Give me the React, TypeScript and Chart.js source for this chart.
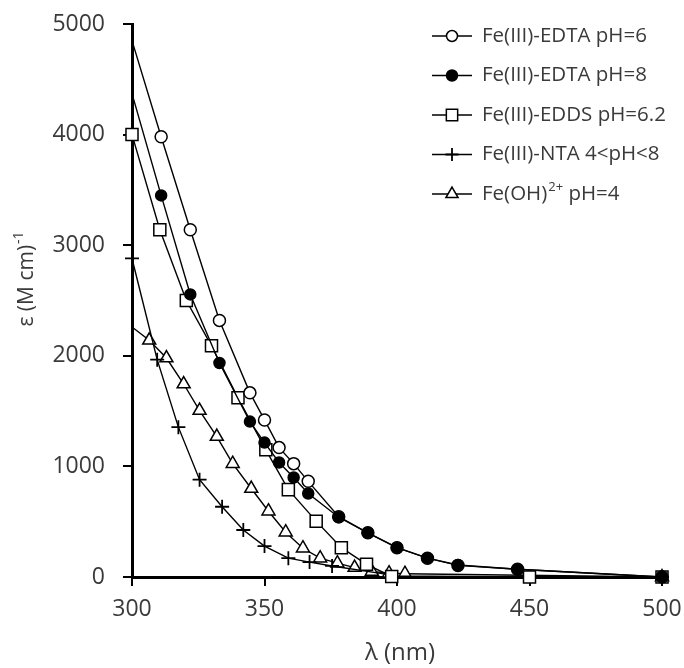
import React, { useEffect, useRef } from "react";
import { Chart, registerables } from "chart.js";

Chart.register(...registerables);

// ---- Data ----
const seriesNames = [
  "Fe(III)-EDTA pH=6",
  "Fe(III)-EDTA pH=8",
  "Fe(III)-EDDS pH=6.2",
  "Fe(III)-NTA 4<pH<8",
  "Fe(OH)2+ pH=4",
];

const edta6X = [300, 311, 322, 333, 344.5, 350, 355.5, 361, 366.5, 378, 389, 400, 411.5, 423, 445.5, 500];
const edta6Y = [4850, 3980, 3140, 2320, 1665, 1420, 1170, 1025, 865, 545, 400, 265, 170, 105, 70, 0];

const edta8X = [300, 311, 322, 333, 344.5, 350, 355.5, 361, 366.5, 378, 389, 400, 411.5, 423, 445.5, 500];
const edta8Y = [4370, 3450, 2555, 1935, 1405, 1215, 1035, 900, 755, 540, 400, 265, 170, 108, 70, 0];

const eddsX = [300, 310.5, 320.5, 330, 340, 350.5, 359, 369.5, 379, 388.5, 398, 450, 500];
const eddsY = [4000, 3140, 2500, 2090, 1620, 1150, 790, 505, 265, 115, 5, 0, 0];

const ntaX = [300, 309.5, 317.5, 325.5, 334, 342, 350, 359, 367, 375.5, 400, 450, 500];
const ntaY = [2880, 1965, 1355, 880, 635, 425, 280, 170, 135, 100, 10, 0, 0];

const fehX = [300, 306.5, 313, 319.5, 325.5, 332, 338, 345, 351.5, 358, 364.5, 371, 377.5, 384, 390.5, 397, 403, 500];
const fehY = [2260, 2140, 1980, 1745, 1505, 1270, 1025, 800, 595, 405, 260, 170, 125, 85, 50, 35, 30, 0];

const xTicks = [300, 350, 400, 450, 500];
const yTicks = [0, 1000, 2000, 3000, 4000, 5000];

const FONT = "'Open Sans', 'DejaVu Sans', sans-serif";
const TEXT = "#3a3a3a";

type Style = "circle" | "rect" | "cross" | "triangle";

function drawMarker(ctx: CanvasRenderingContext2D, style: Style, x: number, y: number, r: number, fill: string) {
  ctx.save();
  ctx.lineWidth = 1.5;
  ctx.strokeStyle = "#000";
  ctx.fillStyle = fill;
  ctx.beginPath();
  if (style === "circle") {
    ctx.arc(x, y, r, 0, Math.PI * 2);
    ctx.fill();
    ctx.stroke();
  } else if (style === "rect") {
    const s = r * Math.SQRT1_2;
    ctx.rect(x - s, y - s, 2 * s, 2 * s);
    ctx.fill();
    ctx.stroke();
  } else if (style === "triangle") {
    ctx.moveTo(x, y - r);
    ctx.lineTo(x + (r * Math.sqrt(3)) / 2, y + r / 2);
    ctx.lineTo(x - (r * Math.sqrt(3)) / 2, y + r / 2);
    ctx.closePath();
    ctx.fill();
    ctx.stroke();
  } else {
    ctx.lineWidth = 1.8;
    ctx.moveTo(x - r, y);
    ctx.lineTo(x + r, y);
    ctx.moveTo(x, y - r);
    ctx.lineTo(x, y + r);
    ctx.stroke();
  }
  ctx.restore();
}

const legendStyles: { style: Style; r: number; fill: string }[] = [
  { style: "circle", r: 5.5, fill: "#fff" },
  { style: "circle", r: 5.5, fill: "#000" },
  { style: "rect", r: 8, fill: "#fff" },
  { style: "cross", r: 6.5, fill: "#000" },
  { style: "triangle", r: 7, fill: "#fff" },
];

const LEG_FONT = 20.5;

const overlayPlugin = {
  id: "overlay",
  afterDraw(chart: any) {
    const ctx: CanvasRenderingContext2D = chart.ctx;
    ctx.save();
    // Legend
    const rowY = [36, 75.5, 115, 154.5, 194];
    const lineX0 = 432;
    const lineX1 = 472;
    const markX = 452;
    const textX = 482;
    ctx.textBaseline = "middle";
    ctx.textAlign = "left";
    seriesNames.forEach((name, i) => {
      const y = rowY[i];
      ctx.strokeStyle = "#000";
      ctx.lineWidth = 1.5;
      ctx.beginPath();
      ctx.moveTo(lineX0, y);
      ctx.lineTo(lineX1, y);
      ctx.stroke();
      const ls = legendStyles[i];
      drawMarker(ctx, ls.style, markX, y, ls.r, ls.fill);
      ctx.fillStyle = TEXT;
      if (name.startsWith("Fe(OH)2+")) {
        ctx.font = `${LEG_FONT}px ${FONT}`;
        const a = "Fe(OH)";
        ctx.fillText(a, textX, y);
        const w = ctx.measureText(a).width;
        ctx.font = `13px ${FONT}`;
        ctx.fillText("2+", textX + w + 1, y - 7);
        const w2 = ctx.measureText("2+").width;
        ctx.font = `${LEG_FONT}px ${FONT}`;
        ctx.fillText(" pH=4", textX + w + w2 + 1, y);
      } else {
        ctx.font = `${LEG_FONT}px ${FONT}`;
        ctx.fillText(name, textX, y);
      }
    });

    // Y axis title
    ctx.save();
    ctx.translate(27, 279);
    ctx.rotate(-Math.PI / 2);
    ctx.fillStyle = TEXT;
    const main = "ε (M cm)";
    const sup = "-1";
    ctx.font = `21px ${FONT}`;
    const mw = ctx.measureText(main).width;
    ctx.font = `14px ${FONT}`;
    const sw = ctx.measureText(sup).width;
    const total = mw + sw + 1;
    ctx.textAlign = "left";
    ctx.textBaseline = "middle";
    ctx.font = `21px ${FONT}`;
    ctx.fillText(main, -total / 2, 0);
    ctx.font = `14px ${FONT}`;
    ctx.fillText(sup, -total / 2 + mw + 1, -8);
    ctx.restore();

    // X axis title
    ctx.fillStyle = TEXT;
    ctx.font = `24px ${FONT}`;
    ctx.textAlign = "center";
    ctx.textBaseline = "middle";
    ctx.fillText("λ (nm)", 400, 653);
    ctx.restore();
  },
};

function pts(xs: number[], ys: number[]) {
  return xs.map((x, i) => ({ x, y: ys[i] }));
}

export default function App() {
  const ref = useRef<HTMLCanvasElement | null>(null);

  useEffect(() => {
    if (!ref.current) return;
    const hideFirst = (n: number, r: number) => Array.from({ length: n }, (_, i) => (i === 0 ? 0 : r));
    const base = {
      borderColor: "#000",
      borderWidth: 1.4,
      pointBorderColor: "#000",
      pointBorderWidth: 1.5,
      tension: 0,
      clip: false as any,
    };
    const tickFont = { family: FONT, size: 23 };
    const chart = new Chart(ref.current, {
      type: "line",
      data: {
        datasets: [
          {
            ...base,
            label: seriesNames[0],
            data: pts(edta6X, edta6Y),
            pointStyle: "circle",
            pointRadius: hideFirst(edta6X.length, 6),
            pointBackgroundColor: "#fff",
            order: 1,
          },
          {
            ...base,
            label: seriesNames[1],
            data: pts(edta8X, edta8Y),
            pointStyle: "circle",
            pointRadius: hideFirst(edta8X.length, 5.5),
            pointBackgroundColor: "#000",
            order: 0,
          },
          {
            ...base,
            label: seriesNames[2],
            data: pts(eddsX, eddsY),
            pointStyle: "rect",
            pointRadius: 8.5,
            pointBackgroundColor: "#fff",
            order: 2,
          },
          {
            ...base,
            label: seriesNames[3],
            data: pts(ntaX, ntaY),
            pointStyle: "cross",
            pointRadius: ntaX.map((x) => (x > 380 && x < 500 ? 0 : 7)),
            pointBorderWidth: 1.8,
            pointBackgroundColor: "#000",
            order: 3,
          },
          {
            ...base,
            label: seriesNames[4],
            data: pts(fehX, fehY),
            pointStyle: "triangle",
            pointRadius: hideFirst(fehX.length, 7.5),
            pointBackgroundColor: "#fff",
            order: 4,
          },
        ],
      },
      options: {
        responsive: false,
        animation: false,
        layout: { padding: { top: 24, right: 22, left: 0, bottom: 0 } },
        plugins: { legend: { display: false }, tooltip: { enabled: false } },
        scales: {
          x: {
            type: "linear",
            min: 300,
            max: 500,
            afterBuildTicks: (scale: any) => {
              scale.ticks = xTicks.map((v) => ({ value: v }));
            },
            ticks: {
              color: TEXT,
              font: tickFont,
              padding: 10,
              maxRotation: 0,
              callback: (v: any) => String(v),
            },
            grid: { drawOnChartArea: false, drawTicks: true, tickLength: 9, color: "#000", lineWidth: 2 },
            border: { display: true, color: "#000", width: 3 },
            afterFit: (scale: any) => {
              scale.height = 91;
              scale.paddingLeft = 0;
              scale.paddingRight = 0;
              scale.paddingTop = 0;
              scale.paddingBottom = 0;
            },
          },
          y: {
            type: "linear",
            min: 0,
            max: 5000,
            afterBuildTicks: (scale: any) => {
              scale.ticks = yTicks.map((v) => ({ value: v }));
            },
            ticks: { color: TEXT, font: tickFont, padding: 18, callback: (v: any) => String(v) },
            grid: { drawOnChartArea: false, drawTicks: true, tickLength: 9, color: "#000", lineWidth: 2 },
            border: { display: true, color: "#000", width: 3 },
            afterFit: (scale: any) => {
              scale.width = 132;
              scale.paddingLeft = 0;
              scale.paddingRight = 0;
              scale.paddingTop = 0;
              scale.paddingBottom = 0;
            },
          },
        },
      },
      plugins: [overlayPlugin],
    } as any);
    return () => chart.destroy();
  }, []);

  return (
    <div style={{ position: "fixed", left: 0, top: 0, width: 684, height: 668, background: "#fff" }}>
      <canvas ref={ref} width={684} height={668} style={{ display: "block", width: 684, height: 668 }} />
    </div>
  );
}
